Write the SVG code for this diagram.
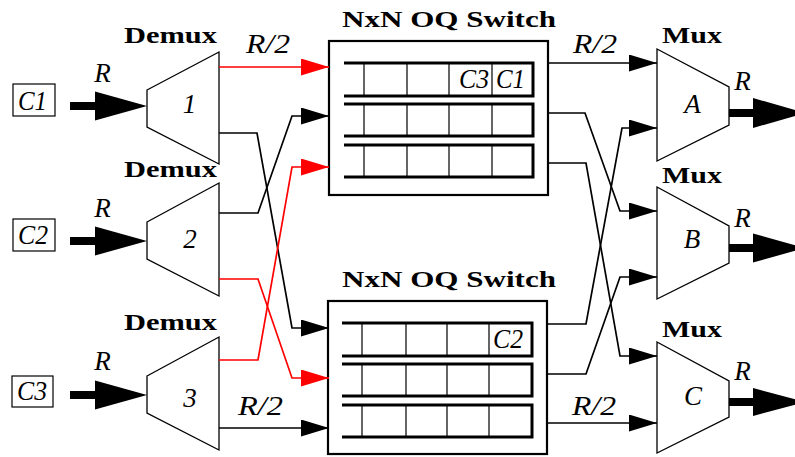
<svg xmlns="http://www.w3.org/2000/svg" width="795" height="457" viewBox="0 0 795 457">
<style>
.m{font-family:"Liberation Serif","Times New Roman",serif;font-style:italic;font-size:27px;fill:#000}
.b{font-family:"Liberation Serif","Times New Roman",serif;font-weight:bold;font-size:23px;fill:#000}
.trap{fill:#fff;stroke:#000;stroke-width:1.3}
.box{fill:#fff;stroke:#000;stroke-width:2.2}
.lbl{fill:#fff;stroke:#000;stroke-width:1.2}
.q{fill:none;stroke:#000;stroke-width:3}
.cell{stroke:#000;stroke-width:1.2}
.cb{fill:none;stroke:#000;stroke-width:1.7;marker-end:url(#ah)}
.cr{fill:none;stroke:#f00;stroke-width:1.7;marker-end:url(#ahr)}
.fat{fill:#000}
</style>
<defs>
<marker id="ah" markerUnits="userSpaceOnUse" markerWidth="28" markerHeight="17" refX="28" refY="8.5" orient="auto"><path d="M0,0 L28,8.5 L0,17 z" fill="#000"/></marker>
<marker id="ahr" markerUnits="userSpaceOnUse" markerWidth="28" markerHeight="17" refX="28" refY="8.5" orient="auto"><path d="M0,0 L28,8.5 L0,17 z" fill="#f00"/></marker>
<g id="inArrow"><rect x="0" y="-4" width="27" height="8"/><polygon points="25,-14.5 77,0 25,14.5"/></g>
</defs>

<!-- inputs -->
<g id="inC1">
<rect class="lbl" x="13" y="84" width="42" height="32"/>
<text class="m" x="18" y="110" textLength="29" lengthAdjust="spacingAndGlyphs">C1</text>
<text class="m" x="102.5" y="82" text-anchor="middle">R</text>
<use href="#inArrow" x="70" y="106"/>
</g>
<g id="inC2">
<rect class="lbl" x="13" y="219" width="42" height="32"/>
<text class="m" x="18" y="244" textLength="30" lengthAdjust="spacingAndGlyphs">C2</text>
<text class="m" x="102.5" y="217" text-anchor="middle">R</text>
<use href="#inArrow" x="70" y="241"/>
</g>
<g id="inC3">
<rect class="lbl" x="12" y="376" width="41" height="31"/>
<text class="m" x="17" y="400" textLength="30" lengthAdjust="spacingAndGlyphs">C3</text>
<text class="m" x="102.5" y="370" text-anchor="middle">R</text>
<use href="#inArrow" x="70" y="395"/>
</g>

<!-- demuxes -->
<g id="demux1">
<text class="b" x="124" y="43" textLength="93" lengthAdjust="spacingAndGlyphs">Demux</text>
<polygon class="trap" points="147,90 219,52 219,164 147,127"/>
<text class="m" x="189.5" y="113" text-anchor="middle">1</text>
</g>
<g id="demux2">
<text class="b" x="124" y="177" textLength="93" lengthAdjust="spacingAndGlyphs">Demux</text>
<polygon class="trap" points="147,222 219,183 219,296 147,259"/>
<text class="m" x="190" y="248" text-anchor="middle">2</text>
</g>
<g id="demux3">
<text class="b" x="124" y="330" textLength="93" lengthAdjust="spacingAndGlyphs">Demux</text>
<polygon class="trap" points="147,376 219,337 219,450 147,413"/>
<text class="m" x="190" y="407" text-anchor="middle">3</text>
</g>

<!-- switches -->
<g id="switch1">
<text class="b" x="342" y="27" textLength="214" lengthAdjust="spacingAndGlyphs">NxN OQ Switch</text>
<rect class="box" x="329" y="41" width="219" height="154"/>
<path class="q" d="M344,63 H533 V96 H344"/>
<path class="q" d="M344,104 H533 V136 H344"/>
<path class="q" d="M344,145 H533 V177 H344"/>
<path class="cell" d="M364,63V96 M407,63V96 M449,63V96 M492,63V96 M364,104V136 M407,104V136 M449,104V136 M492,104V136 M364,145V177 M407,145V177 M449,145V177 M492,145V177"/>
<text class="m" x="459" y="88" textLength="30" lengthAdjust="spacingAndGlyphs">C3</text>
<text class="m" x="496" y="88" textLength="29" lengthAdjust="spacingAndGlyphs">C1</text>
</g>
<g id="switch2">
<text class="b" x="342" y="287" textLength="214" lengthAdjust="spacingAndGlyphs">NxN OQ Switch</text>
<rect class="box" x="328" y="301" width="219" height="153"/>
<path class="q" d="M342,323 H532 V356 H342"/>
<path class="q" d="M342,364 H532 V396 H342"/>
<path class="q" d="M342,405 H532 V437 H342"/>
<path class="cell" d="M362,323V356 M406,323V356 M447,323V356 M489,323V356 M362,364V396 M406,364V396 M447,364V396 M489,364V396 M362,405V437 M406,405V437 M447,405V437 M489,405V437"/>
<text class="m" x="493" y="348" textLength="30" lengthAdjust="spacingAndGlyphs">C2</text>
</g>

<!-- muxes -->
<g id="muxA">
<text class="b" x="662" y="43" textLength="60" lengthAdjust="spacingAndGlyphs">Mux</text>
<polygon class="trap" points="657,49 729,87 729,125 657,161"/>
<text class="m" x="692.5" y="113" text-anchor="middle">A</text>
<text class="m" x="742.5" y="90" text-anchor="middle">R</text>
<rect class="fat" x="729" y="109" width="26" height="8"/>
<polygon class="fat" points="753,98 805,113 753,128"/>
</g>
<g id="muxB">
<text class="b" x="662" y="183" textLength="60" lengthAdjust="spacingAndGlyphs">Mux</text>
<polygon class="trap" points="657,187 729,226 729,263 657,299"/>
<text class="m" x="692" y="248" text-anchor="middle">B</text>
<text class="m" x="742.5" y="227" text-anchor="middle">R</text>
<rect class="fat" x="729" y="244" width="26" height="8"/>
<polygon class="fat" points="753,233.5 805,248 753,262.5"/>
</g>
<g id="muxC">
<text class="b" x="662" y="337" textLength="60" lengthAdjust="spacingAndGlyphs">Mux</text>
<polygon class="trap" points="657,342 729,381 729,417 657,453"/>
<text class="m" x="693" y="405" text-anchor="middle">C</text>
<text class="m" x="742.5" y="380" text-anchor="middle">R</text>
<rect class="fat" x="729" y="398" width="26" height="8"/>
<polygon class="fat" points="753,388 805,402 753,416"/>
</g>

<!-- connectors -->
<g id="connectors">
<path class="cr" d="M219,67 H329"/>
<path class="cb" d="M219,133 H257 L292,328 H329"/>
<path class="cb" d="M219,213 H258 L292,116 H329"/>
<path class="cr" d="M219,279 H258 L292,378 H329"/>
<path class="cr" d="M219,360 H258 L292,167 H329"/>
<path class="cb" d="M219,428 H329"/>
<path class="cb" d="M548,63 H657"/>
<path class="cb" d="M548,113 H585 L620,211 H657"/>
<path class="cb" d="M548,163 H586 L620,356 H657"/>
<path class="cb" d="M547,324 H586 L622,128 H657"/>
<path class="cb" d="M547,374 H586 L620,277 H657"/>
<path class="cb" d="M547,423 H657"/>
<text class="m" x="246" y="53" textLength="44" lengthAdjust="spacingAndGlyphs">R/2</text>
<text class="m" x="573" y="53" textLength="44" lengthAdjust="spacingAndGlyphs">R/2</text>
<text class="m" x="238" y="415" textLength="45" lengthAdjust="spacingAndGlyphs">R/2</text>
<text class="m" x="572" y="415" textLength="44" lengthAdjust="spacingAndGlyphs">R/2</text>
</g>
</svg>
